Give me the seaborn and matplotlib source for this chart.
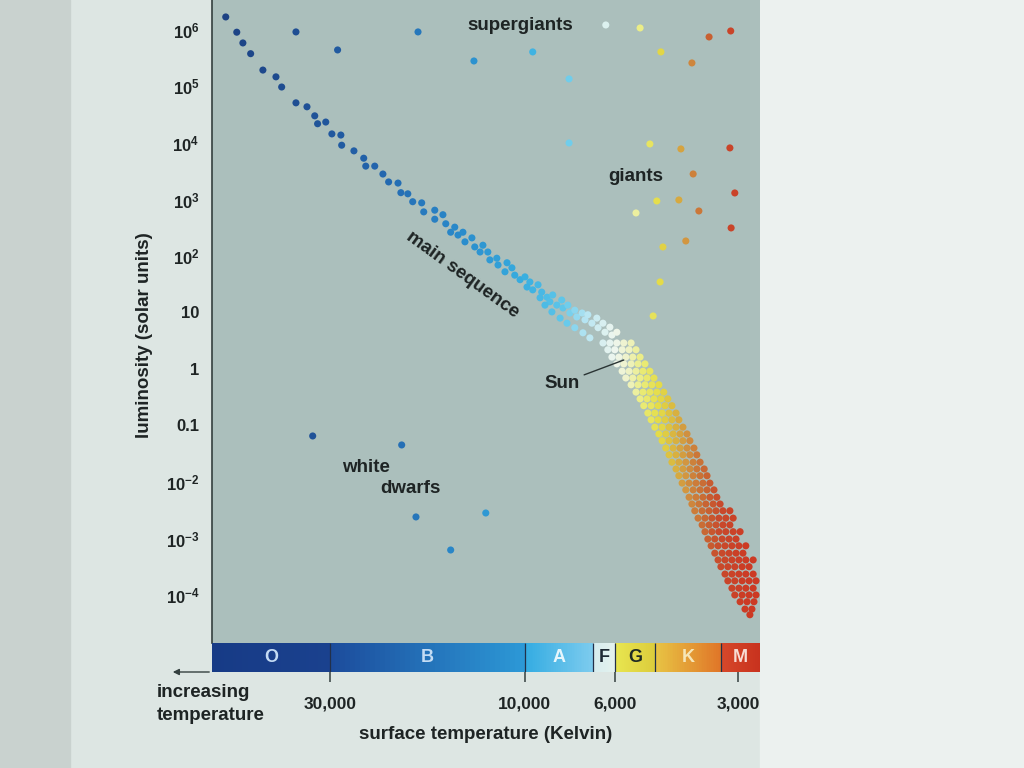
import numpy as np
import pandas as pd
import matplotlib
matplotlib.use('Agg')
import matplotlib.pyplot as plt
import seaborn as sns
from matplotlib.colors import LinearSegmentedColormap
from matplotlib.patches import Rectangle
from matplotlib.ticker import FixedLocator, FixedFormatter, NullFormatter

# --- data: log10(T / K) and log10(L / Lsun) ---

# upper main sequence, star by star
ms_upper_logt = [4.732, 4.705, 4.690, 4.671, 4.641, 4.609, 4.595, 4.560, 4.533, 4.514,
                 4.507, 4.487, 4.472, 4.450, 4.448, 4.418, 4.394, 4.389, 4.367, 4.347,
                 4.333, 4.310, 4.303, 4.286, 4.274, 4.252, 4.247, 4.220, 4.220, 4.200,
                 4.193, 4.181, 4.171, 4.163, 4.151, 4.146, 4.129, 4.122, 4.109, 4.102,
                 4.090, 4.085, 4.068, 4.065, 4.043, 4.048, 4.031, 4.024, 4.011, 3.999,
                 3.987, 3.994, 3.980, 3.967, 3.958, 3.962, 3.945, 3.938, 3.931, 3.921,
                 3.909, 3.906, 3.894, 3.889, 3.877, 3.872, 3.859, 3.852, 3.845, 3.835,
                 3.823, 3.820, 3.808, 3.803, 3.791, 3.786, 3.774,
                 3.950, 3.933, 3.913, 3.896, 3.877, 3.857, 3.840]
ms_upper_logl = [6.23, 5.96, 5.77, 5.58, 5.29, 5.17, 4.99, 4.71, 4.64, 4.48,
                 4.34, 4.37, 4.16, 4.14, 3.96, 3.86, 3.73, 3.59, 3.59, 3.45,
                 3.31, 3.29, 3.12, 3.10, 2.96, 2.94, 2.78, 2.81, 2.65, 2.73,
                 2.57, 2.42, 2.51, 2.37, 2.42, 2.25, 2.32, 2.16, 2.07, 2.19,
                 2.07, 1.93, 1.96, 1.84, 1.88, 1.72, 1.79, 1.66, 1.58, 1.63,
                 1.54, 1.45, 1.40, 1.49, 1.36, 1.26, 1.27, 1.19, 1.31, 1.13,
                 1.22, 1.08, 1.13, 0.99, 1.04, 0.92, 0.99, 0.87, 0.96, 0.81,
                 0.90, 0.73, 0.81, 0.65, 0.74, 0.60, 0.65,
                 1.13, 1.01, 0.90, 0.81, 0.73, 0.64, 0.55]

# lower main sequence, row by row: one luminosity per row, the temperatures in it
ms_row_logl = [0.46, 0.34, 0.21, 0.09, -0.04, -0.16, -0.28, -0.41, -0.53, -0.65,
               -0.78, -0.90, -1.03, -1.15, -1.27, -1.40, -1.52, -1.65, -1.77, -1.89,
               -2.02, -2.14, -2.27, -2.39, -2.51, -2.64, -2.76, -2.88, -3.01, -3.13,
               -3.26, -3.38, -3.50, -3.63, -3.75, -3.88, -4.00, -4.12, -4.25, -4.35]
ms_row_logt = [
    [3.808, 3.791, 3.774, 3.757, 3.739],
    [3.796, 3.779, 3.761, 3.744, 3.727],
    [3.786, 3.769, 3.752, 3.735, 3.717],
    [3.774, 3.757, 3.739, 3.722, 3.705],
    [3.761, 3.744, 3.727, 3.710, 3.693],
    [3.752, 3.735, 3.717, 3.700, 3.683],
    [3.739, 3.722, 3.705, 3.688, 3.671],
    [3.727, 3.710, 3.693, 3.676, 3.659],
    [3.717, 3.700, 3.683, 3.666, 3.649],
    [3.708, 3.690, 3.673, 3.656, 3.639],
    [3.698, 3.681, 3.663, 3.646, 3.629],
    [3.690, 3.673, 3.656, 3.639, 3.622],
    [3.681, 3.663, 3.646, 3.629, 3.612],
    [3.671, 3.654, 3.636, 3.619, 3.602],
    [3.663, 3.646, 3.629, 3.612, 3.595],
    [3.654, 3.636, 3.619, 3.602, 3.585],
    [3.646, 3.629, 3.612, 3.595, 3.578],
    [3.639, 3.622, 3.605, 3.587, 3.570],
    [3.629, 3.612, 3.595, 3.578, 3.560],
    [3.622, 3.605, 3.587, 3.570, 3.553],
    [3.614, 3.597, 3.580, 3.563, 3.546],
    [3.605, 3.587, 3.570, 3.553, 3.536],
    [3.597, 3.580, 3.563, 3.546, 3.529],
    [3.590, 3.573, 3.556, 3.538, 3.521],
    [3.583, 3.565, 3.548, 3.531, 3.514, 3.497],
    [3.575, 3.558, 3.541, 3.524, 3.507, 3.489],
    [3.565, 3.548, 3.531, 3.514, 3.497],
    [3.558, 3.541, 3.524, 3.507, 3.489, 3.472],
    [3.551, 3.534, 3.516, 3.499, 3.482],
    [3.543, 3.526, 3.509, 3.492, 3.475, 3.458],
    [3.534, 3.516, 3.499, 3.482, 3.465],
    [3.526, 3.509, 3.492, 3.475, 3.458, 3.440],
    [3.519, 3.502, 3.485, 3.467, 3.450],
    [3.509, 3.492, 3.475, 3.458, 3.440],
    [3.502, 3.485, 3.467, 3.450, 3.433],
    [3.492, 3.475, 3.458, 3.440],
    [3.485, 3.467, 3.450, 3.433],
    [3.472, 3.455, 3.438],
    [3.460, 3.443],
    [3.448],
]

supergiant_logt = [4.560, 4.458, 4.261, 4.124, 3.980, 3.891, 3.801, 3.717, 3.666, 3.590, 3.548, 3.495]
supergiant_logl = [5.965, 5.646, 5.965, 5.451, 5.611, 5.133, 6.088, 6.035, 5.611, 5.416, 5.876, 5.982]

giant_logt = [3.891, 3.693, 3.617, 3.497, 3.587, 3.485, 3.676, 3.622, 3.573, 3.727, 3.494, 3.661, 3.605, 3.668, 3.685]
giant_logl = [4.000, 3.982, 3.894, 3.912, 3.451, 3.115, 2.973, 2.991, 2.796, 2.761, 2.496, 2.159, 2.265, 1.540, 0.938]

dwarf_logt = [4.519, 4.301, 4.266, 4.095, 4.181]
dwarf_logl = [-1.186, -1.345, -2.619, -2.549, -3.204]

# spectral classes along the bottom strip
class_names = ['O', 'B', 'A', 'F', 'G', 'K', 'M']
class_edges_k = [58300, 30000, 10000, 6800, 6000, 4800, 3300, 2650]
class_hot_colors = ['#173b86', '#1c4c9c', '#34ace2', '#d6ecee', '#e8e650', '#e8c444', '#d6482a']
class_cool_colors = ['#1a418e', '#2c98d6', '#7ccbee', '#e4f2ee', '#dccc3c', '#e07628', '#c8321e']
class_text_colors = ['#c4dbf4', '#c4dcf4', '#e6f6fc', '#1e2a34', '#1e2a24', '#f6e6b8', '#f8dcd4']

temp_ticks = [30000, 10000, 6000, 3000]
temp_tick_labels = ['30,000', '10,000', '6,000', '3,000']
lum_ticks = [1e-4, 1e-3, 1e-2, 0.1, 1, 10, 1e2, 1e3, 1e4, 1e5, 1e6]
lum_tick_labels = ['$10^{-4}$', '$10^{-3}$', '$10^{-2}$', '0.1', '1', '10',
                   '$10^{2}$', '$10^{3}$', '$10^{4}$', '$10^{5}$', '$10^{6}$']

# star colour against log T
color_stop_logt = [3.42, 3.45, 3.52, 3.56, 3.60, 3.64, 3.67, 3.71, 3.745, 3.78, 3.85, 3.90,
                   4.00, 4.15, 4.35, 4.55, 4.77]
color_stop_hex = ['#cc3a24', '#cc3a24', '#c84a2c', '#c86a34', '#d09040', '#dcc040', '#e4dc48',
                  '#eaec78', '#eef2c8', '#eef6ee', '#b4e4f2', '#62c8ea', '#38aee0', '#2a8ccc',
                  '#2366ae', '#1f4f94', '#1c3f80']

# --- assemble ---
rows = []
for lt, ll in zip(ms_upper_logt, ms_upper_logl):
    rows.append(('main sequence', lt, ll))
for ll, temps in zip(ms_row_logl, ms_row_logt):
    for lt in temps:
        rows.append(('main sequence', lt, ll))
for lt, ll in zip(supergiant_logt, supergiant_logl):
    rows.append(('supergiant', lt, ll))
for lt, ll in zip(giant_logt, giant_logl):
    rows.append(('giant', lt, ll))
for lt, ll in zip(dwarf_logt, dwarf_logl):
    rows.append(('white dwarf', lt, ll))
stars = pd.DataFrame(rows, columns=['kind', 'log_t', 'log_l'])
stars['temp_k'] = 10 ** stars['log_t']
stars['lum'] = 10 ** stars['log_l']

lo, hi = color_stop_logt[0], color_stop_logt[-1]
stops = [(t - lo) / (hi - lo) for t in color_stop_logt]
star_cmap = LinearSegmentedColormap.from_list('star', list(zip(stops, color_stop_hex)))

sns.set_theme(style='white')
plt.rcParams['font.family'] = ['Liberation Sans', 'DejaVu Sans']
plt.rcParams['font.weight'] = 'bold'
plt.rcParams['axes.labelweight'] = 'bold'
plt.rcParams['mathtext.fontset'] = 'custom'
plt.rcParams['mathtext.rm'] = 'Liberation Sans:bold'
plt.rcParams['mathtext.it'] = 'Liberation Sans:bold'
plt.rcParams['mathtext.bf'] = 'Liberation Sans:bold'
plt.rcParams['mathtext.default'] = 'rm'

ink = '#1e2424'
axis_ink = '#34403f'
x_range = (58300, 2650)
y_range = (10 ** -4.85, 10 ** 6.53)

fig = plt.figure(figsize=(10.24, 7.68), dpi=100)
fig.patch.set_facecolor('#dde6e3')
fig.add_artist(Rectangle((0, 0), 70 / 1024, 1, transform=fig.transFigure, color='#c9d2cf', zorder=0))
fig.add_artist(Rectangle((760 / 1024, 0), 264 / 1024, 1, transform=fig.transFigure, color='#ecf1ef', zorder=0))

ax = fig.add_axes([212 / 1024, 1 - 643 / 768, 548 / 1024, 643 / 768])
ax.set_facecolor('#abbfbc')
ax.set_xscale('log')
ax.set_yscale('log')

sns.scatterplot(data=stars, x='temp_k', y='lum', hue='log_t', palette=star_cmap,
                hue_norm=(lo, hi), s=26, linewidth=0, legend=False, ax=ax)

ax.set_xlim(*x_range)
ax.set_ylim(*y_range)
for side in ['top', 'right', 'bottom']:
    ax.spines[side].set_visible(False)
ax.spines['left'].set_color(axis_ink)
ax.spines['left'].set_linewidth(1.2)
ax.set_xticks([])
ax.xaxis.set_minor_locator(FixedLocator([]))
ax.set_xlabel('')
ax.yaxis.set_major_locator(FixedLocator(lum_ticks))
ax.yaxis.set_major_formatter(FixedFormatter(lum_tick_labels))
ax.yaxis.set_minor_locator(FixedLocator(10 ** np.arange(-4.5, 6.0, 1.0)))
ax.yaxis.set_minor_formatter(NullFormatter())
ax.tick_params(axis='y', which='major', direction='in', length=6, width=1.1,
               color=axis_ink, labelsize=12, labelcolor=ink, pad=9)
ax.tick_params(axis='y', which='minor', direction='in', length=3.5, width=1.1, color=axis_ink)
ax.set_ylabel('luminosity (solar units)', fontsize=13.5, color=ink, fontweight='bold')
ax.yaxis.set_label_coords(-0.108, 0.479)

text_kw = dict(fontsize=13.5, color=ink, ha='center', va='center')
ax.text(10250, 1.2e6, 'supergiants', **text_kw)
ax.text(5330, 2600, 'giants', **text_kw)
ax.text(14150, 46, 'main sequence', rotation=-36, rotation_mode='anchor', **text_kw)
ax.text(24500, 0.0184, 'white', **text_kw)
ax.text(19000, 0.0078, 'dwarfs', **text_kw)
ax.annotate('Sun', xy=(5715, 1.44), xytext=(8100, 0.56), **text_kw,
            arrowprops=dict(arrowstyle='-', color='#2a3434', lw=1, shrinkA=1, shrinkB=0))

# spectral class strip
bar = fig.add_axes([212 / 1024, 1 - 672 / 768, 548 / 1024, 29 / 768])
bar.set_xscale('log')
for i, name in enumerate(class_names):
    t_hot, t_cool = class_edges_k[i], class_edges_k[i + 1]
    xs = np.geomspace(t_hot, t_cool, 40)
    shade = LinearSegmentedColormap.from_list(name, [class_hot_colors[i], class_cool_colors[i]])
    bar.pcolormesh(xs, [0, 1], np.linspace(0, 1, len(xs) - 1)[None, :],
                   cmap=shade, vmin=0, vmax=1, shading='flat')
    bar.text(np.sqrt(t_hot * t_cool), 0.5, name, ha='center', va='center',
             fontsize=13, color=class_text_colors[i])
bar.vlines(class_edges_k[1:-1], 0, 1, color='#22304a', lw=0.9)
bar.set_xlim(*x_range)
bar.set_ylim(0, 1)
bar.set_yticks([])
for side in bar.spines:
    bar.spines[side].set_visible(False)
bar.xaxis.set_major_locator(FixedLocator(temp_ticks))
bar.xaxis.set_major_formatter(FixedFormatter(temp_tick_labels))
bar.xaxis.set_minor_locator(FixedLocator([]))
bar.tick_params(axis='x', which='major', direction='out', length=7.5, width=1.1,
                color=axis_ink, labelsize=12.5, labelcolor=ink, pad=10, bottom=True)
bar.set_xlabel('surface temperature (Kelvin)', fontsize=13.5, color=ink, fontweight='bold')
bar.xaxis.set_label_coords(0.5, -1.85)

fig.patches.append(matplotlib.patches.FancyArrowPatch(
    (212 / 1024, 1 - 672 / 768), (170 / 1024, 1 - 672 / 768), transform=fig.transFigure,
    arrowstyle='-|>', mutation_scale=9, color=axis_ink, lw=1))
fig.text(157 / 1024, 1 - 704 / 768, 'increasing\ntemperature', ha='left', va='center',
         fontsize=13.5, color=ink, linespacing=1.4)

fig.savefig('out.png', dpi=100, facecolor=fig.get_facecolor())
